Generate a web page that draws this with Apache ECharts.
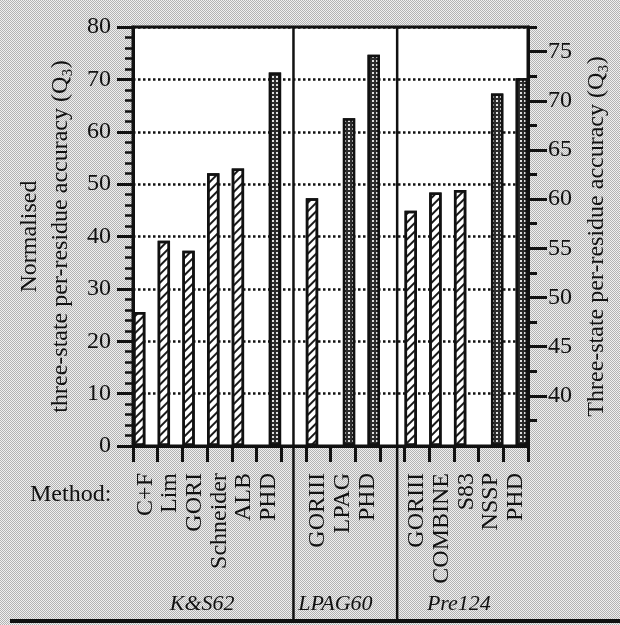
<!DOCTYPE html>
<html>
<head>
<meta charset="utf-8">
<script src="https://cdn.jsdelivr.net/npm/echarts@6/dist/echarts.min.js"></script>
<style>
html,body{margin:0;padding:0;background:#d0d0d0;}
#chart{width:620px;height:625px;}
</style>
</head>
<body>
<div id="chart"></div>
<script>
// ---- data ----
const categories = ['C+F','Lim','GORI','Schneider','ALB','PHD','',
                    'GORIII','LPAG','PHD','',
                    'GORIII','COMBINE','S83','NSSP','PHD'];
const hatchedValues = [25.6, 39.2, 37.3, 52.1, 53.0, null, null,
                       47.3, null, null, null,
                       44.9, 48.4, 48.9, null, null];
const darkValues = [null, null, null, null, null, 71.3, null,
                    null, 62.6, 74.7, null,
                    null, null, null, 67.3, 70.2];
const leftMin = 0, leftMax = 80, leftStep = 10;
const rightMin = 34.9, rightMax = 77.5;
const rightMajorTicks = [40, 45, 50, 55, 60, 65, 70, 75];
const rightMinorTicks = [37.5, 42.5, 47.5, 52.5, 57.5, 62.5, 67.5, 72.5, 77.5];
const groupNames = ['K&S62', 'LPAG60', 'Pre124'];
const groupCenters = [2.8, 8.2, 13.2];       // in slot units
const separatorsAt = [6.5, 10.7];            // in slot units
const slotCount = 16;

const FONT = '"Liberation Serif", "Times New Roman", serif';
const INK = '#111';

// stipple background
const tile = document.createElement('canvas');
tile.width = 2; tile.height = 2;
const tg = tile.getContext('2d');
tg.fillStyle = '#efefef'; tg.fillRect(0, 0, 2, 2);
tg.fillStyle = '#b2b2b2'; tg.fillRect(0, 0, 1, 1); tg.fillRect(1, 1, 1, 1);

const chart = echarts.init(document.getElementById('chart'), null, {renderer: 'canvas'});

const option = {
  animation: false,
  backgroundColor: {image: tile, repeat: 'repeat'},
  textStyle: {fontFamily: FONT, color: INK},
  grid: {left: 133, right: 92, top: 27, bottom: 179, show: true,
         backgroundColor: '#ffffff', borderColor: INK, borderWidth: 3},
  xAxis: [{
    type: 'category', data: categories,
    axisLine: {lineStyle: {color: INK, width: 3}},
    axisTick: {show: true, length: 16, lineStyle: {color: INK, width: 3}},
    axisLabel: {interval: 0, rotate: 90, margin: 27, fontSize: 24,
                fontFamily: FONT, color: INK},
    splitLine: {show: false}
  }, {
    type: 'value', min: 0, max: slotCount, show: false
  }],
  yAxis: [{
    type: 'value', position: 'left', min: leftMin, max: leftMax, interval: leftStep,
    axisLine: {show: true, lineStyle: {color: INK, width: 3}},
    axisTick: {show: true, length: 16, lineStyle: {color: INK, width: 3}},
    minorTick: {show: true, splitNumber: 5, length: 8, lineStyle: {color: INK, width: 2.5}},
    axisLabel: {fontSize: 24, margin: 22, fontFamily: FONT, color: INK},
    splitLine: {show: true, lineStyle: {color: INK, type: 'dotted', width: 2.5}},
    name: 'Normalised\nthree-state per-residue accuracy (Q\u2083)',
    nameLocation: 'middle', nameGap: 56,
    nameTextStyle: {fontSize: 24, lineHeight: 31, fontFamily: FONT, color: INK}
  }, {
    type: 'value', position: 'right', min: rightMin, max: rightMax,
    axisLine: {show: true, lineStyle: {color: INK, width: 3}},
    axisTick: {show: true, length: 19, customValues: rightMajorTicks,
               lineStyle: {color: INK, width: 3}},
    axisLabel: {fontSize: 24, margin: 20, customValues: rightMajorTicks,
                fontFamily: FONT, color: INK},
    splitLine: {show: false},
    name: 'Three-state per-residue accuracy (Q\u2083)',
    nameLocation: 'middle', nameGap: 57,
    nameTextStyle: {fontSize: 24, fontFamily: FONT, color: INK}
  }, {
    type: 'value', position: 'right', min: rightMin, max: rightMax,
    axisLine: {show: false},
    axisTick: {show: true, length: 9, customValues: rightMinorTicks,
               lineStyle: {color: INK, width: 3}},
    axisLabel: {show: false},
    splitLine: {show: false}
  }],
  series: [{
    name: 'hatched', type: 'bar', xAxisIndex: 0, yAxisIndex: 0,
    data: hatchedValues, barGap: '0%', barCategoryGap: '0%',
    itemStyle: {color: '#ffffff', borderColor: INK, borderWidth: 2.5,
      decal: {symbol: 'rect', symbolSize: 1, color: '#1a1a1a',
              dashArrayX: [1, 0], dashArrayY: [1.6, 3.2], rotation: -Math.PI / 4}}
  }, {
    name: 'dark', type: 'bar', xAxisIndex: 0, yAxisIndex: 0,
    data: darkValues, barGap: '0%', barCategoryGap: '0%',
    itemStyle: {color: '#2c2c2c', borderColor: INK, borderWidth: 2.5,
      decal: {symbol: 'rect', symbolSize: 1, color: 'rgba(255,255,255,0.85)',
              dashArrayX: [1.5, 1.5], dashArrayY: [1.5, 1.5]}}
  }]
};
chart.setOption(option);

// overlay: separators, group names, "Method:" and bottom rule
const topY = chart.convertToPixel({yAxisIndex: 0}, leftMax);
const bottomRuleY = 621;
const graphics = [];
separatorsAt.forEach(function (s) {
  const x = chart.convertToPixel({xAxisIndex: 1}, s);
  graphics.push({type: 'line', z: 100,
    shape: {x1: x, y1: topY, x2: x, y2: bottomRuleY},
    style: {stroke: INK, lineWidth: 2.5}});
});
groupNames.forEach(function (g, i) {
  const x = chart.convertToPixel({xAxisIndex: 1}, groupCenters[i]);
  graphics.push({type: 'text', z: 100, x: x, y: 604,
    style: {text: g, font: 'italic 22px ' + FONT, fill: INK,
            align: 'center', verticalAlign: 'middle'}});
});
graphics.push({type: 'text', z: 100, x: 30, y: 495,
  style: {text: 'Method:', font: '24px ' + FONT, fill: INK,
          align: 'left', verticalAlign: 'middle'}});
graphics.push({type: 'line', z: 100,
  shape: {x1: 10, y1: bottomRuleY, x2: 620, y2: bottomRuleY},
  style: {stroke: INK, lineWidth: 4}});
chart.setOption({graphic: graphics});
</script>
</body>
</html>
